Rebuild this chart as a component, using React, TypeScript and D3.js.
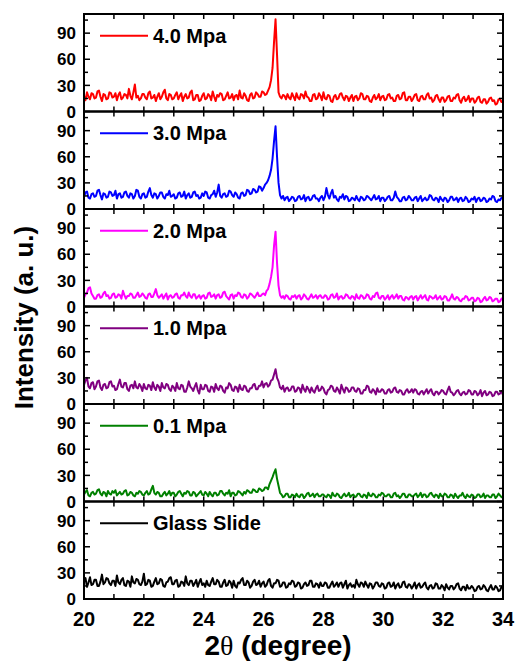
import React from "react";
import * as d3 from "d3";

// 2θ sampling grid: 20.00 .. 34.00, step 0.05 (20 samples per degree)
const X_START = 20;
const X_STEP = 0.05;

const s40 = [
  18,13,22,17,14,21,20,15,16,23,24,17,12,20,19,14,15,22,21,16,
  17,21,13,19,22,14,16,20,19,15,26,18,14,22,31,16,18,13,15,20,
  20,16,14,21,23,15,16,19,12,17,21,14,17,22,25,15,13,20,19,14,
  15,19,22,14,18,21,12,17,20,15,16,22,24,13,14,19,19,12,13,18,
  21,14,15,20,18,13,23,17,12,19,17,21,20,13,14,18,22,15,16,20,
  13,18,19,14,24,16,15,21,18,13,12,19,21,15,16,22,20,17,17,23,
  22,19,20,24,28,36,50,80,106,65,22,17,15,19,18,14,20,16,14,21,
  17,13,21,16,14,20,19,15,23,17,16,12,12,19,20,14,15,21,18,13,
  22,15,14,19,18,12,11,17,19,14,15,20,21,16,13,18,17,12,16,19,
  12,17,18,13,15,21,20,14,14,18,17,12,11,16,19,14,16,20,13,17,
  18,13,14,19,20,15,16,12,12,18,19,14,15,21,22,13,13,17,17,12,
  15,19,20,13,12,17,18,14,14,19,21,15,16,11,13,18,19,14,11,16,
  16,11,13,17,18,12,12,16,15,19,20,13,10,15,17,12,14,18,11,15,
  15,10,12,16,17,11,10,14,14,9,11,15,16,12,13,8,9,14,14,11,
  12,
];
const s30 = [
  14,19,20,13,12,17,18,14,15,21,22,16,11,18,17,13,14,20,19,15,
  16,21,12,17,18,13,14,19,20,15,13,18,17,12,15,22,21,14,12,17,
  18,13,14,20,24,16,13,18,17,12,15,19,19,14,12,17,16,21,14,15,
  17,12,13,18,19,14,15,20,12,16,18,13,14,19,20,15,16,12,13,18,
  15,20,19,13,12,16,17,21,14,19,28,15,13,17,18,14,15,21,20,16,
  14,19,17,13,12,18,19,15,16,22,21,17,18,23,22,19,20,26,25,21,
  24,28,30,33,38,45,58,78,95,60,30,16,12,15,10,13,14,9,11,14,
  13,9,10,14,15,11,12,16,9,13,14,10,11,15,16,12,12,9,13,15,
  10,14,24,16,12,18,22,13,15,11,9,14,13,17,11,15,14,9,10,13,
  12,10,15,11,9,14,13,10,11,15,14,12,10,13,16,11,12,15,9,13,
  13,9,11,14,15,10,10,13,20,14,12,9,9,13,14,10,11,15,13,10,
  10,13,14,9,12,15,9,11,13,10,11,16,15,11,10,13,12,8,14,11,
  9,13,12,8,10,14,14,10,11,13,8,12,13,9,10,14,12,8,9,12,
  11,14,8,12,13,9,10,13,12,8,9,12,11,15,14,9,8,11,10,13,
  12,
];
const s20 = [
  10,14,16,21,22,15,12,9,9,13,14,10,11,15,17,12,13,9,10,14,
  15,10,11,14,13,9,18,13,9,12,12,15,14,10,10,13,16,11,12,15,
  13,10,9,14,15,11,11,15,20,13,10,12,14,9,12,15,8,12,13,10,
  11,14,15,10,9,13,13,16,12,10,16,12,10,14,14,9,11,13,9,12,
  13,9,10,15,16,11,12,14,9,13,14,10,11,16,17,12,10,8,13,14,
  9,13,12,16,15,11,10,14,13,9,11,15,14,12,10,13,16,12,12,14,
  15,13,18,20,26,34,45,70,86,50,24,13,10,12,9,13,12,9,8,12,
  11,13,9,12,13,8,10,14,12,9,8,11,14,10,11,13,9,12,13,10,
  10,13,12,8,9,13,14,10,11,15,8,11,12,9,10,14,13,10,9,12,
  11,8,14,10,9,13,12,9,10,14,13,9,8,12,11,15,16,10,9,12,
  12,8,10,13,8,11,13,9,11,14,9,12,12,8,7,11,10,8,11,12,
  8,11,12,7,10,13,9,11,13,8,7,12,11,9,10,13,8,10,12,8,
  9,12,11,7,7,10,14,9,8,11,10,7,6,9,9,12,11,7,8,10,
  10,6,7,10,9,5,6,9,11,7,8,11,10,6,7,9,9,5,6,9,
  8,
];
const s10 = [
  22,27,30,20,18,24,25,17,20,26,27,19,16,22,23,18,19,25,26,20,
  21,16,17,23,28,20,19,24,24,17,15,21,22,18,26,19,18,23,20,15,
  23,18,17,22,21,16,25,19,16,22,20,15,24,19,18,23,22,17,15,21,
  19,15,24,18,17,22,21,14,14,19,26,20,18,15,20,24,16,12,22,17,
  17,22,21,15,14,20,19,14,23,18,16,21,20,15,13,19,18,24,22,16,
  15,20,19,14,22,17,16,21,20,15,14,18,18,22,23,17,17,21,21,26,
  19,23,24,20,22,27,28,34,40,30,26,19,17,21,14,18,19,15,16,20,
  20,14,15,19,18,13,22,17,14,20,17,13,19,15,13,18,21,15,16,20,
  18,13,11,16,17,21,20,15,14,19,16,12,22,17,13,19,18,14,15,19,
  19,15,14,18,17,12,12,16,16,21,20,14,13,17,15,11,18,14,14,17,
  16,12,12,16,17,13,14,18,19,14,13,16,15,11,11,15,17,13,14,17,
  13,17,16,12,11,14,15,11,14,17,12,15,17,12,10,14,14,11,13,16,
  15,12,11,16,20,14,13,10,12,15,16,12,10,13,14,11,12,16,15,11,
  11,15,14,10,12,16,9,13,15,10,11,14,13,9,10,14,14,11,12,15,
  10,
];
const s01 = [
  8,11,13,7,6,10,11,8,9,13,14,9,7,11,10,6,12,9,8,12,
  10,13,7,9,11,8,9,12,13,7,8,11,10,7,6,10,9,12,11,8,
  7,10,12,8,9,14,18,10,8,11,10,6,6,9,11,7,9,12,7,10,
  10,6,8,11,12,9,6,10,9,12,11,7,7,11,10,6,8,10,12,8,
  7,11,9,6,11,8,6,10,10,7,8,12,12,9,7,10,9,13,6,10,
  10,7,8,12,11,9,7,11,9,13,12,10,10,14,13,11,11,15,14,12,
  13,16,16,14,20,24,28,33,37,26,18,10,8,5,6,9,9,5,5,8,
  7,5,9,6,5,8,8,4,6,9,10,6,7,9,5,8,9,6,6,8,
  8,6,5,8,7,4,10,7,6,9,8,5,4,7,9,6,7,10,5,7,
  8,5,6,9,9,6,5,8,7,4,10,7,6,9,8,5,5,8,7,10,
  9,6,6,8,8,5,5,9,10,6,7,4,6,9,9,5,5,8,8,6,
  6,8,9,5,7,10,5,8,8,5,6,9,10,7,5,8,7,4,9,6,
  6,9,8,5,5,8,7,4,9,6,4,7,7,10,6,4,8,6,5,8,
  7,4,5,8,8,5,6,9,4,7,7,5,5,8,8,4,6,9,7,5,
  5,
];
const sGlass = [
  20,24,14,19,25,16,17,22,22,15,15,20,28,17,19,24,23,18,16,21,
  21,15,27,19,17,22,24,16,15,21,20,14,26,19,18,23,22,17,16,20,
  29,16,17,22,21,14,15,20,24,17,18,23,22,15,14,19,20,24,25,17,
  17,21,22,14,15,20,19,15,26,18,16,21,21,15,18,22,14,19,23,16,
  18,14,21,16,15,20,24,17,17,22,20,14,14,19,22,15,16,21,19,13,
  21,15,13,19,18,22,24,16,16,21,19,13,15,20,22,16,17,21,14,18,
  20,14,16,21,23,15,13,18,18,22,21,14,15,19,19,13,14,18,17,21,
  20,14,15,19,18,12,13,17,19,15,16,21,21,14,14,18,17,13,19,15,
  15,19,18,13,13,17,20,14,16,19,14,18,19,13,17,21,12,16,18,14,
  16,13,22,17,14,19,18,14,20,16,13,18,17,12,15,19,19,15,14,18,
  17,12,13,18,19,14,15,19,12,16,18,13,14,19,20,14,13,17,16,12,
  15,19,12,16,18,13,14,17,19,13,11,15,16,12,13,18,17,12,12,16,
  14,10,17,13,11,15,15,11,13,17,18,12,10,14,14,10,16,12,12,15,
  13,9,10,14,15,11,12,16,14,10,9,13,16,11,11,15,13,9,10,14,
  14,
];

const labels = ["4.0 Mpa", "3.0 Mpa", "2.0 Mpa", "1.0 Mpa", "0.1 Mpa", "Glass Slide"];
const colors = ["#ff0000", "#0000ff", "#ff00ff", "#800080", "#008000", "#000000"];
const seriesList = [s40, s30, s20, s10, s01, sGlass];

const xTicks = [20, 22, 24, 26, 28, 30, 32, 34];
const xMinorTicks = d3.range(20, 35, 1);
const yTicks = [0, 30, 60, 90];
const yMinorTicks = [0, 15, 30, 45, 60, 75, 90, 105];

const W = 516, H = 664;
const L = 84, R = 503, T = 14, B = 599;
const N = 6;
const PH = (B - T) / N;
const FONT = "'Liberation Sans', Arial, sans-serif";

export default function App() {
  const x = d3.scaleLinear().domain([20, 34]).range([L, R]);
  return (
    <svg width={W} height={H} style={{ position: "absolute", left: 0, top: 0, background: "#fff" }}>
      <rect x={0} y={0} width={W} height={H} fill="#fff" />
      {seriesList.map((s, k) => {
        const top = T + k * PH;
        const bot = top + PH;
        const y = d3.scaleLinear().domain([0, 112]).range([bot, top]);
        const line = d3
          .line<number>()
          .x((_, i) => x(X_START + i * X_STEP))
          .y((v) => y(v));
        return (
          <g key={k}>
            <path d={line(s) || ""} fill="none" stroke={colors[k]} strokeWidth={2} strokeLinejoin="round" />
            {xMinorTicks.map((t) => (
              <g key={"xt" + t}>
                <line x1={x(t)} x2={x(t)} y1={bot} y2={bot - 5} stroke="#000" strokeWidth={1.5} />
                <line x1={x(t)} x2={x(t)} y1={top} y2={top + 5} stroke="#000" strokeWidth={1.5} />
              </g>
            ))}
            {yMinorTicks.map((t) => {
              const major = t % 30 === 0;
              const len = major ? 6 : 4;
              return (
                <g key={"yt" + t}>
                  <line x1={L} x2={L + len} y1={y(t)} y2={y(t)} stroke="#000" strokeWidth={1.5} />
                  <line x1={R} x2={R - len} y1={y(t)} y2={y(t)} stroke="#000" strokeWidth={1.5} />
                </g>
              );
            })}
            {yTicks.map((t) => (
              <text
                key={"yl" + t}
                x={76}
                y={y(t)}
                dy="0.36em"
                textAnchor="end"
                fontFamily={FONT}
                fontWeight="bold"
                fontSize={17}
                fill="#000"
              >
                {t}
              </text>
            ))}
            <line x1={100} x2={148} y1={top + 21.7} y2={top + 21.7} stroke={colors[k]} strokeWidth={2} />
            <text x={153} y={top + 28.5} fontFamily={FONT} fontWeight="bold" fontSize={20} fill="#000">
              {labels[k]}
            </text>
            <rect x={L} y={top} width={R - L} height={PH} fill="none" stroke="#000" strokeWidth={2} />
          </g>
        );
      })}
      {xTicks.map((t) => (
        <text
          key={"xl" + t}
          x={x(t)}
          y={626}
          textAnchor="middle"
          fontFamily={FONT}
          fontWeight="bold"
          fontSize={20}
          fill="#000"
        >
          {t}
        </text>
      ))}
      <text
        transform={`translate(33,${(225 + 410) / 2}) rotate(-90)`}
        textAnchor="middle"
        fontFamily={FONT}
        fontWeight="bold"
        fontSize={26}
        fill="#000"
      >
        Intensity (a. u.)
      </text>
      <text x={278} y={655} textAnchor="middle" fontFamily={FONT} fontWeight="bold" fontSize={28} fill="#000">
        2<tspan fontFamily="'Liberation Serif', 'Times New Roman', serif" fontWeight="normal">θ</tspan> (degree)
      </text>
    </svg>
  );
}
